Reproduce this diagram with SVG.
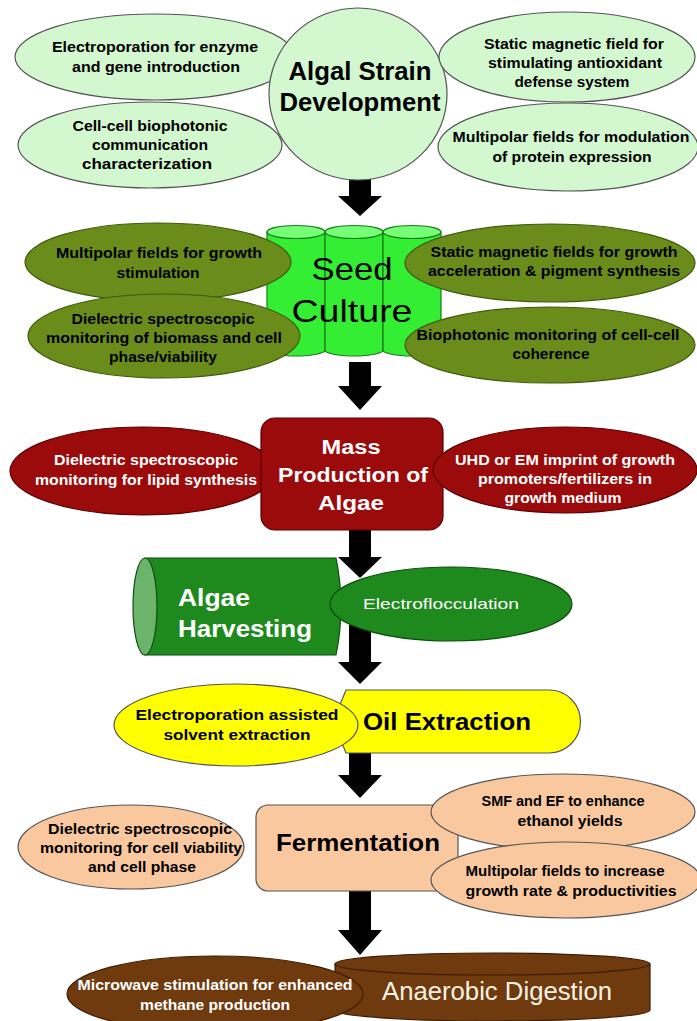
<svg xmlns="http://www.w3.org/2000/svg" width="697" height="1021" viewBox="0 0 697 1021">
<style>
text{font-family:"Liberation Sans",Arial,sans-serif;text-anchor:middle}
.t{font-weight:bold;font-size:14px}
.k{fill:#000}
.w{fill:#fff}
.lg{fill:#d3f7cf;stroke:#555;stroke-width:1.2}
.ol{fill:#6a8c1a;stroke:#3f5a0c;stroke-width:1.2}
.dr{fill:#9b0b0b;stroke:#5a0000;stroke-width:1.2}
.gr{fill:#1e8a1e;stroke:#0d4d0d;stroke-width:1.2}
.ye{fill:#ffff00;stroke:#555;stroke-width:1.2}
.pe{fill:#f9c89f;stroke:#555;stroke-width:1.2}
.br{fill:#6e3a0e;stroke:#3a1d05;stroke-width:1.2}
.cyl{fill:#33ee33;stroke:#1a7a1a;stroke-width:1.2}
.cylt{fill:#77ff77;stroke:#1a7a1a;stroke-width:1.2}
</style>
<rect width="697" height="1021" fill="#fff"/>
<g id="connectors" fill="#000">
<polygon points="349,172 371,172 371,196 382,196 360,216 338,196 349,196"/>
<polygon points="349,362 371,362 371,386 382,386 360,410 338,386 349,386"/>
<polygon points="349,528 371,528 371,557 382,557 360,578 338,557 349,557"/>
<polygon points="349,625 371,625 371,662 382,662 360,684 338,662 349,662"/>
<polygon points="349,752 371,752 371,775 382,775 360,798 338,775 349,775"/>
<polygon points="349,890 371,890 371,930 382,930 360,955 338,930 349,930"/>
</g>
<g id="e-electroporation"><ellipse class="lg" cx="155" cy="57" rx="140" ry="43"/><text class="t k" x="155" y="52" textLength="206" lengthAdjust="spacingAndGlyphs">Electroporation for enzyme</text><text class="t k" x="156" y="72" textLength="168" lengthAdjust="spacingAndGlyphs">and gene introduction</text></g>
<g id="e-biophotonic"><ellipse class="lg" cx="150" cy="145" rx="132" ry="43"/><text class="t k" x="150" y="131" textLength="155" lengthAdjust="spacingAndGlyphs">Cell-cell biophotonic</text><text class="t k" x="150" y="150" textLength="116" lengthAdjust="spacingAndGlyphs">communication</text><text class="t k" x="147" y="169" textLength="130" lengthAdjust="spacingAndGlyphs">characterization</text></g>
<g id="algal-strain"><ellipse class="lg" cx="358" cy="94" rx="89" ry="86"/><text class="k" x="360" y="80" font-size="25" font-weight="bold" textLength="143" lengthAdjust="spacingAndGlyphs">Algal Strain</text><text class="k" x="360" y="111" font-size="25" font-weight="bold" textLength="161" lengthAdjust="spacingAndGlyphs">Development</text></g>
<g id="e-static"><ellipse class="lg" cx="567" cy="57" rx="128" ry="45"/><text class="t k" x="574" y="49" textLength="180" lengthAdjust="spacingAndGlyphs">Static magnetic field for</text><text class="t k" x="575" y="68" textLength="174" lengthAdjust="spacingAndGlyphs">stimulating antioxidant</text><text class="t k" x="572" y="87" textLength="115" lengthAdjust="spacingAndGlyphs">defense system</text></g>
<g id="e-multipolar"><ellipse class="lg" cx="568" cy="147" rx="130" ry="44"/><text class="t k" x="571" y="142" textLength="237" lengthAdjust="spacingAndGlyphs">Multipolar fields for modulation</text><text class="t k" x="572" y="162" textLength="159" lengthAdjust="spacingAndGlyphs">of protein expression</text></g>

<g id="seed-culture">
<path class="cyl" d="M267,232 L267,350 A29,6 0 0 0 325,350 L325,232 Z"/><ellipse class="cylt" cx="296" cy="232" rx="29" ry="6.5"/>
<path class="cyl" d="M325,232 L325,350 A29,6 0 0 0 383,350 L383,232 Z"/><ellipse class="cylt" cx="354" cy="232" rx="29" ry="6.5"/>
<path class="cyl" d="M383,232 L383,350 A29,6 0 0 0 441,350 L441,232 Z"/><ellipse class="cylt" cx="412" cy="232" rx="29" ry="6.5"/>
</g>
<g id="e-mp-growth"><ellipse class="ol" cx="158" cy="262" rx="133" ry="39"/><text class="t k" x="159" y="258" textLength="206" lengthAdjust="spacingAndGlyphs">Multipolar fields for growth</text><text class="t k" x="158" y="278" textLength="83" lengthAdjust="spacingAndGlyphs">stimulation</text></g>
<g id="e-dielectric-biomass"><ellipse class="ol" cx="164" cy="336" rx="136" ry="42"/><text class="t k" x="163" y="324" textLength="183" lengthAdjust="spacingAndGlyphs">Dielectric spectroscopic</text><text class="t k" x="164" y="343" textLength="236" lengthAdjust="spacingAndGlyphs">monitoring of biomass  and cell</text><text class="t k" x="163" y="362" textLength="108" lengthAdjust="spacingAndGlyphs">phase/viability</text></g>
<text class="k" x="352" y="280" font-size="32" textLength="81" lengthAdjust="spacingAndGlyphs">Seed</text>
<text class="k" x="352" y="322" font-size="32" textLength="121" lengthAdjust="spacingAndGlyphs">Culture</text>
<g id="e-smf-growth"><ellipse class="ol" cx="550" cy="263" rx="145" ry="39"/><text class="t k" x="554" y="257" textLength="247" lengthAdjust="spacingAndGlyphs">Static magnetic fields for growth</text><text class="t k" x="554" y="276" textLength="252" lengthAdjust="spacingAndGlyphs">acceleration &amp; pigment synthesis</text></g>
<g id="e-biophotonic-coh"><ellipse class="ol" cx="550" cy="345" rx="145" ry="38"/><text class="t k" x="548" y="340" textLength="263" lengthAdjust="spacingAndGlyphs">Biophotonic monitoring of cell-cell</text><text class="t k" x="551" y="359" textLength="77" lengthAdjust="spacingAndGlyphs">coherence</text></g>

<g id="e-lipid"><ellipse class="dr" cx="143" cy="471" rx="133" ry="44"/><text class="t w" x="146" y="465" textLength="184" lengthAdjust="spacingAndGlyphs">Dielectric spectroscopic</text><text class="t w" x="146" y="485" textLength="222" lengthAdjust="spacingAndGlyphs">monitoring for lipid synthesis</text></g>
<g id="mass-production"><rect class="dr" x="261" y="418" width="182" height="112" rx="14"/><text class="w" x="351" y="454" font-size="20" font-weight="bold" textLength="59" lengthAdjust="spacingAndGlyphs">Mass</text><text class="w" x="353" y="482" font-size="20" font-weight="bold" textLength="150" lengthAdjust="spacingAndGlyphs">Production of</text><text class="w" x="351" y="510" font-size="20" font-weight="bold" textLength="66" lengthAdjust="spacingAndGlyphs">Algae</text></g>
<g id="e-uhd"><ellipse class="dr" cx="565" cy="470" rx="132" ry="43"/><text class="t w" x="565" y="465" textLength="220" lengthAdjust="spacingAndGlyphs">UHD or EM imprint of growth</text><text class="t w" x="565" y="484" textLength="174" lengthAdjust="spacingAndGlyphs">promoters/fertilizers in</text><text class="t w" x="563" y="503" textLength="117" lengthAdjust="spacingAndGlyphs">growth medium</text></g>

<g id="algae-harvesting"><path class="gr" d="M145,558 L336,558 Q346,606 336,655 L145,655 Z"/><ellipse cx="145" cy="606.5" rx="12" ry="48.5" fill="#6cb36c" stroke="#0d4d0d" stroke-width="1.2"/><text class="w" x="214" y="606" font-size="24" font-weight="bold" textLength="72" lengthAdjust="spacingAndGlyphs">Algae</text><text class="w" x="245" y="637" font-size="24" font-weight="bold" textLength="134" lengthAdjust="spacingAndGlyphs">Harvesting</text></g>
<g id="e-electroflocculation"><ellipse class="gr" cx="451" cy="604" rx="121" ry="37"/><text class="w" x="441" y="609" font-size="15" textLength="156" lengthAdjust="spacingAndGlyphs">Electroflocculation</text></g>

<g id="oil-extraction"><path class="ye" d="M346,690 L549,690 A31.5,31.5 0 0 1 549,753 L346,753 L333,721.5 Z"/><text class="k" x="447" y="730" font-size="23" font-weight="bold" textLength="168" lengthAdjust="spacingAndGlyphs">Oil Extraction</text></g>
<g id="e-electroporation-solvent"><ellipse class="ye" cx="236" cy="725" rx="122" ry="41"/><text class="t k" x="237" y="720" textLength="203" lengthAdjust="spacingAndGlyphs">Electroporation assisted</text><text class="t k" x="237" y="740" textLength="147" lengthAdjust="spacingAndGlyphs">solvent extraction</text></g>

<g id="fermentation"><rect class="pe" x="256" y="805" width="202" height="86" rx="12"/><text class="k" x="358" y="851" font-size="24" font-weight="bold" textLength="164" lengthAdjust="spacingAndGlyphs">Fermentation</text></g>
<g id="e-dielectric-viability"><ellipse class="pe" cx="131" cy="847" rx="113" ry="42"/><text class="t k" x="140" y="834" textLength="184" lengthAdjust="spacingAndGlyphs">Dielectric spectroscopic</text><text class="t k" x="141" y="853" textLength="202" lengthAdjust="spacingAndGlyphs">monitoring for cell viability</text><text class="t k" x="142" y="872" textLength="108" lengthAdjust="spacingAndGlyphs">and cell phase</text></g>
<g id="e-smf-ef"><ellipse class="pe" cx="563" cy="812" rx="132" ry="38"/><text class="t k" x="563" y="806" textLength="163" lengthAdjust="spacingAndGlyphs">SMF and EF to enhance</text><text class="t k" x="570" y="826" textLength="105" lengthAdjust="spacingAndGlyphs">ethanol yields</text></g>
<g id="e-mp-productivity"><ellipse class="pe" cx="566" cy="880" rx="135" ry="38"/><text class="t k" x="565" y="876" textLength="199" lengthAdjust="spacingAndGlyphs">Multipolar fields to increase</text><text class="t k" x="571" y="896" textLength="211" lengthAdjust="spacingAndGlyphs">growth rate &amp; productivities</text></g>

<g id="anaerobic-digestion"><path class="br" d="M335,964 L335,1010 A157.5,11 0 0 0 650,1010 L650,964 Z"/><ellipse class="br" cx="492.5" cy="964" rx="157.5" ry="11"/><text x="497" y="1000" font-size="25" fill="#f8f2e4" textLength="230" lengthAdjust="spacingAndGlyphs">Anaerobic Digestion</text></g>
<g id="e-microwave"><ellipse class="br" cx="215" cy="994" rx="148" ry="38"/><text class="t w" x="215" y="990" textLength="275" lengthAdjust="spacingAndGlyphs">Microwave stimulation for enhanced</text><text class="t w" x="215" y="1010" textLength="150" lengthAdjust="spacingAndGlyphs">methane production</text></g>
</svg>
